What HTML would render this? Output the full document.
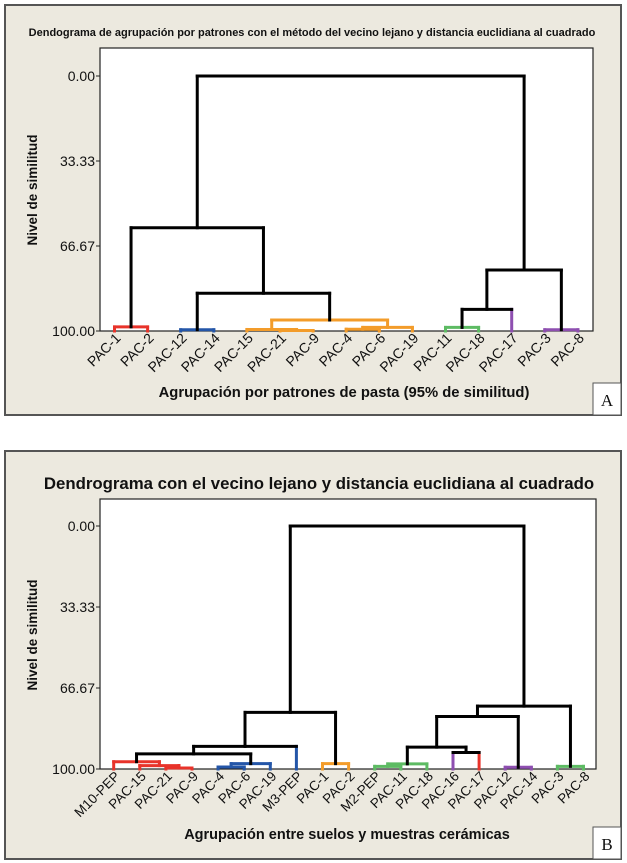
<!DOCTYPE html>
<html><head><meta charset="utf-8">
<style>
body{margin:0;width:627px;height:863px;background:#fff;overflow:hidden;font-family:"Liberation Sans",sans-serif;}
svg{position:absolute;left:0;top:0;}
</style></head>
<body>
<svg id="chart" width="627" height="863" viewBox="0 0 627 863" xmlns="http://www.w3.org/2000/svg"></svg>
<script>
// ---- Chart A data ----
const leavesA = ["PAC-1","PAC-2","PAC-12","PAC-14","PAC-15","PAC-21","PAC-9","PAC-4","PAC-6","PAC-19","PAC-11","PAC-18","PAC-17","PAC-3","PAC-8"];
const leafColorA = ["red","red","blue","blue","orange","orange","orange","orange","orange","orange","green","green","purple","purple","purple"];
const mergeLeftA  = [0,2,5,4,7,19,18,16,15,10,24,13,25,23];
const mergeRightA = [1,3,6,17,8,9,20,21,22,11,12,14,26,27];
const mergeSimA   = [98.4,99.5,99.8,99.4,99.3,98.6,95.7,85.2,59.5,98.6,91.5,99.5,76.1,0];
const mergeColorA = ["red","blue","orange","orange","orange","orange","orange","black","black","green","black","purple","black","black"];
const yTicksA = [0,33.33,66.67,100];
const yTickLabelsA = ["0.00","33.33","66.67","100.00"];

// ---- Chart B data ----
const leavesB = ["M10-PEP","PAC-15","PAC-21","PAC-9","PAC-4","PAC-6","PAC-19","M3-PEP","PAC-1","PAC-2","M2-PEP","PAC-11","PAC-18","PAC-16","PAC-17","PAC-12","PAC-14","PAC-3","PAC-8"];
const leafColorB = ["red","red","red","red","blue","blue","blue","blue","orange","orange","green","green","green","purple","red","purple","purple","green","green"];
const mergeLeftB  = [2,1,0,4,22,21,24,8,25,10,28,13,29,15,31,17,33,27];
const mergeRightB = [3,19,20,5,6,23,7,9,26,11,12,14,30,16,32,18,34,35];
const mergeSimB   = [99.6,98.6,97.0,99.2,97.8,93.8,90.7,97.8,76.7,98.9,97.9,93.2,91.0,99.3,78.4,98.9,74.1,0];
const mergeColorB = ["red","red","red","blue","blue","black","black","orange","black","green","green","black","black","purple","black","green","black","black"];
const yTicksB = [0,33.33,66.67,100];
const yTickLabelsB = ["0.00","33.33","66.67","100.00"];

const PAL = {red:"#e8332a",blue:"#2456a8",orange:"#f39c2a",green:"#5dbb63",purple:"#8e4fb0",black:"#000"};
const NS = "http://www.w3.org/2000/svg";
const svg = document.getElementById('chart');

function mk(tag, attrs, parent){
  const e = document.createElementNS(NS, tag);
  for (const k in attrs) e.setAttribute(k, attrs[k]);
  (parent||svg).appendChild(e);
  return e;
}

function drawChart(o){
  const g = mk('g', {});
  
  
  const panel = mk('rect', {x:o.px, y:o.py, width:o.pw, height:o.ph, fill:"#ece9df", stroke:"#555", "stroke-width":2}, g);
  
  
  const t = mk('text', {x:o.titleX, y:o.titleY, "font-size":o.titleSize, "font-weight":"bold", "text-anchor":"middle", fill:"#111"}, g);
  t.textContent = o.title;
  
  
  const pa = mk('rect', {x:o.x0, y:o.y0, width:o.x1-o.x0, height:o.y1-o.y0, fill:"#fff", stroke:"#222", "stroke-width":1.2}, g);
  
  
  const yScale = s => o.yZero + (o.yHundred - o.yZero) * s / 100;
  const n = o.leaves.length;
  const xLeaf = i => o.leafX0 + i * o.leafStep;
  o.ticks.forEach((v, i) => {
    const y = yScale(v);
    const tk = mk('line', {x1:o.x0-4, x2:o.x0, y1:y, y2:y, stroke:"#222", "stroke-width":1}, g);
    
    
    const tl = mk('text', {x:o.x0-5, y:y+5, "font-size":14, "text-anchor":"end", fill:"#111", "font-family":"'Liberation Sans Narrow','Liberation Sans',sans-serif"}, g);
    tl.textContent = o.tickLabels[i];
    
    
  });
  const nx = [], ns = [];
  for (let i = 0; i < n; i++){ nx.push(xLeaf(i)); ns.push(100); }
  for (let k = 0; k < o.mL.length; k++){
    const a = o.mL[k], b = o.mR[k];
    nx.push((nx[a] + nx[b]) / 2); ns.push(o.mS[k]);
  }
  for (let k = 0; k < o.mL.length; k++){
    const a = o.mL[k], b = o.mR[k];
    const yM = yScale(o.mS[k]);
    const col = PAL[o.mC[k]];
    [a, b].forEach(c => {
      const vc = c < n ? PAL[o.leafColor[c]] : col;
      const v = mk('line', {x1:nx[c], x2:nx[c], y1:yScale(ns[c]), y2:yM, stroke:vc, "stroke-width":3, "stroke-linecap":"square"}, g);
      
      
    });
    const h = mk('line', {x1:nx[a], x2:nx[b], y1:yM, y2:yM, stroke:col, "stroke-width":3, "stroke-linecap":"square"}, g);
    
    
  }
  o.leaves.forEach((name, i) => {
    const x = xLeaf(i) + 7, y = o.y1 + 8;
    const lt = mk('text', {x:x, y:y, "font-size":o.leafSize, "text-anchor":"end", fill:"#111", transform:`rotate(-45 ${x} ${y})`}, g);
    lt.textContent = name;
    
    
  });
  const yt = mk('text', {x:0, y:0, "font-size":13.5, "font-weight":"bold", "text-anchor":"middle", fill:"#111", transform:`translate(${o.yTitleX} ${o.yTitleY}) rotate(-90)`}, g);
  yt.textContent = "Nivel de similitud";
  
  
  const xt = mk('text', {x:o.xTitleX, y:o.xTitleY, "font-size":o.xTitleSize, "font-weight":"bold", "text-anchor":"middle", fill:"#111"}, g);
  xt.textContent = o.xTitle;
  
  
  const lb = mk('rect', {x:o.px+o.pw-28, y:o.py+o.ph-32, width:28, height:32, fill:"#fff", stroke:"#555", "stroke-width":1}, g);
  
  
  const lt2 = mk('text', {x:o.px+o.pw-14, y:o.py+o.ph-9, "font-size":17, "text-anchor":"middle", fill:"#111", "font-family":"'Liberation Serif',serif"}, g);
  lt2.textContent = o.letter;
  
  
}

drawChart({name:"dendrogram-a", px:5, py:5, pw:616, ph:410,
  title:"Dendograma de agrupación por patrones con el método del vecino lejano y distancia euclidiana al cuadrado",
  titleX:312, titleY:36, titleSize:11,
  x0:100, x1:593, y0:48, y1:331, yZero:76, yHundred:331,
  leaves:leavesA, leafColor:leafColorA, mL:mergeLeftA, mR:mergeRightA, mS:mergeSimA, mC:mergeColorA,
  ticks:yTicksA, tickLabels:yTickLabelsA, leafX0:114.5, leafStep:33.1, leafSize:14,
  yTitleX:37, yTitleY:190, xTitle:"Agrupación por patrones de pasta (95% de similitud)", xTitleX:344, xTitleY:397, xTitleSize:14.8, letter:"A"});

drawChart({name:"dendrogram-b", px:5, py:451, pw:616, ph:408,
  title:"Dendrograma con el vecino lejano y distancia euclidiana al cuadrado",
  titleX:319, titleY:489, titleSize:16.8,
  x0:100, x1:596, y0:499, y1:769, yZero:526, yHundred:769,
  leaves:leavesB, leafColor:leafColorB, mL:mergeLeftB, mR:mergeRightB, mS:mergeSimB, mC:mergeColorB,
  ticks:yTicksB, tickLabels:yTickLabelsB, leafX0:113.7, leafStep:26.1, leafSize:13.5,
  yTitleX:37, yTitleY:635, xTitle:"Agrupación entre suelos y muestras cerámicas", xTitleX:347, xTitleY:839, xTitleSize:14.5, letter:"B"});
</script>
</body></html>
